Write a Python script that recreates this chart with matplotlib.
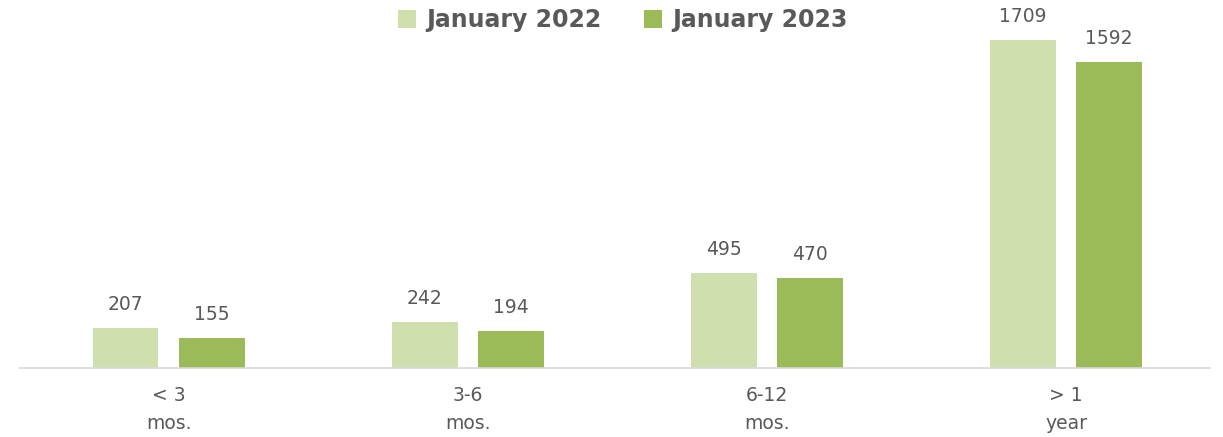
"""Bar chart: unemployment duration, January 2022 vs January 2023."""

import matplotlib.pyplot as plt
import numpy as np

categories = ["< 3\nmos.", "3-6\nmos.", "6-12\nmos.", "> 1\nyear"]
jan_2022 = [207, 242, 495, 1709]
jan_2023 = [155, 194, 470, 1592]

LIGHT = "#cfdfae"
DARK = "#9bbb59"
TEXT = "#595959"

fig = plt.figure(figsize=(12.23, 4.37), dpi=100)
ax = fig.add_axes([0.016, 0.158, 0.973, 0.842])

x = np.arange(len(categories))
offset = 0.144
width = 0.22

bars_a = ax.bar(x - offset, jan_2022, width, color=LIGHT, label="January 2022")
bars_b = ax.bar(x + offset, jan_2023, width, color=DARK, label="January 2023")

for bars in (bars_a, bars_b):
	for bar in bars:
		ax.annotate(
			f"{bar.get_height():.0f}",
			(bar.get_x() + bar.get_width() / 2, bar.get_height()),
			xytext=(0, 10),
			textcoords="offset points",
			ha="center",
			va="bottom",
			fontsize=13.5,
			color=TEXT,
		)

ax.set_xlim(-0.498, 3.48)
ax.set_ylim(0, 1917)
ax.set_xticks(x)
ax.set_xticklabels(categories, fontsize=13.5, color=TEXT, linespacing=1.6)
ax.tick_params(axis="x", length=0, pad=13)
ax.set_yticks([])
for side in ("top", "right", "left"):
	ax.spines[side].set_visible(False)
ax.spines["bottom"].set_color("#d9d9d9")
ax.spines["bottom"].set_linewidth(1.2)

leg = ax.legend(
	loc="upper center",
	bbox_to_anchor=(0.507, 1.035),
	ncol=2,
	frameon=False,
	prop={"weight": "bold", "size": 17},
	handlelength=0.75,
	handleheight=0.75,
	handletextpad=0.45,
	columnspacing=1.8,
)
for t in leg.get_texts():
	t.set_color(TEXT)

fig.savefig("out.png", dpi=100)
